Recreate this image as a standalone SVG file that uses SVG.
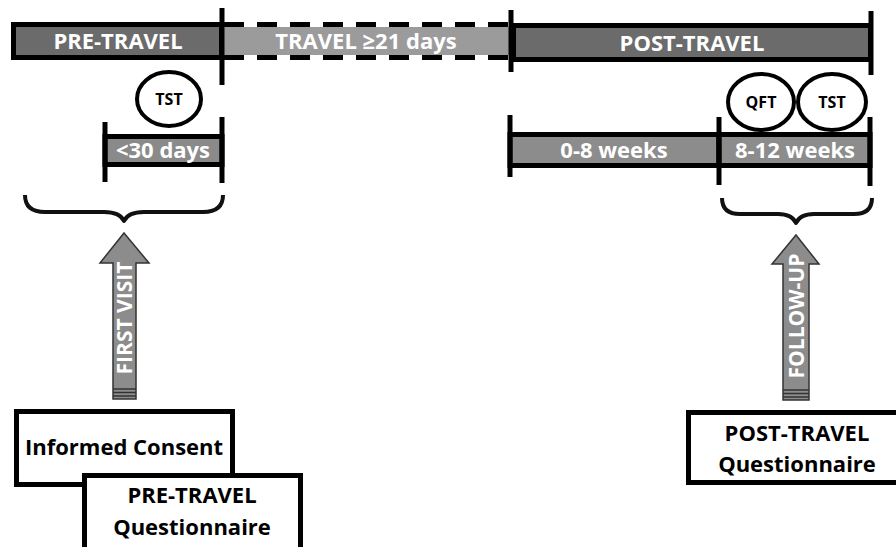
<svg xmlns="http://www.w3.org/2000/svg" width="896" height="547" viewBox="0 0 896 547">
<style>
.bar{stroke:#000;stroke-width:5}
.tick{stroke:#000;stroke-width:5;fill:none}
.wt{fill:#fff;font-family:"Open Sans","Liberation Sans",sans-serif;font-weight:bold;text-anchor:middle}
.bt{fill:#000;font-family:"Open Sans","Liberation Sans",sans-serif;font-weight:bold;text-anchor:middle}
.circ{fill:#fff;stroke:#000;stroke-width:4}
.box{fill:#fff;stroke:#000;stroke-width:5}
.brace{fill:none;stroke:#111;stroke-width:4;stroke-linejoin:round}
.arr{fill:#8c8c8c;stroke:#333;stroke-width:1.5}
.stripe{stroke:#333;stroke-width:1.5}
</style>
<rect width="896" height="547" fill="#fff"/>
<g id="pre-travel">
<rect class="bar" x="13.5" y="24.5" width="208" height="33" fill="#6b6b6b"/>
<text class="wt" x="118" y="49" font-size="22">PRE-TRAVEL</text>
</g>
<g id="travel">
<rect x="222" y="27" width="288" height="28" fill="#9b9b9b"/>
<line x1="224" y1="24.5" x2="510" y2="24.5" stroke="#000" stroke-width="5" stroke-dasharray="20 13"/>
<line x1="224" y1="57.5" x2="510" y2="57.5" stroke="#000" stroke-width="5" stroke-dasharray="20 13"/>
<text class="wt" x="366" y="49" font-size="22">TRAVEL ≥21 days</text>
</g>
<g id="post-travel">
<rect class="bar" x="513.5" y="25.5" width="357" height="34" fill="#6b6b6b"/>
<text class="wt" x="692" y="51" font-size="22">POST-TRAVEL</text>
</g>
<g id="ticks-top">
<line class="tick" x1="222" y1="8" x2="222" y2="85"/>
<line class="tick" x1="511" y1="10" x2="511" y2="72"/>
<line class="tick" x1="871" y1="11" x2="871" y2="75"/>
</g>
<g id="lt30">
<rect class="bar" x="105" y="136.5" width="117" height="28" fill="#8a8a8a"/>
<line class="tick" x1="105" y1="122" x2="105" y2="182"/>
<line class="tick" x1="222" y1="117" x2="222" y2="183"/>
<text class="wt" x="163" y="158" font-size="22">&lt;30 days</text>
</g>
<g id="w0-8">
<rect class="bar" x="510" y="134.5" width="209" height="31" fill="#8c8c8c"/>
<line class="tick" x1="510" y1="115" x2="510" y2="177"/>
<text class="wt" x="614" y="158" font-size="22">0-8 weeks</text>
</g>
<g id="w8-12">
<rect class="bar" x="719" y="134.5" width="151" height="31" fill="#8c8c8c"/>
<line class="tick" x1="719" y1="117" x2="719" y2="185"/>
<line class="tick" x1="870" y1="117" x2="870" y2="186"/>
<text class="wt" x="795" y="158" font-size="22">8-12 weeks</text>
</g>
<g id="tst-pre">
<ellipse class="circ" cx="169" cy="99" rx="32" ry="27"/>
<text class="bt" x="169" y="105" font-size="16">TST</text>
</g>
<g id="qft-post">
<ellipse class="circ" cx="761" cy="102" rx="33" ry="28"/>
<text class="bt" x="761" y="108" font-size="16">QFT</text>
</g>
<g id="tst-post">
<ellipse class="circ" cx="832" cy="102" rx="34" ry="28"/>
<text class="bt" x="832" y="108" font-size="16">TST</text>
</g>
<g id="brace-pre">
<path class="brace" d="M25,195 Q25,212 45,212 L104,212 Q120,212 124,221 Q128,212 144,212 L203,212 Q223,212 223,195"/>
</g>
<g id="brace-post">
<path class="brace" d="M722,198 Q722,214 740,214 L778,214 Q792,214 796,223 Q800,214 814,214 L854,214 Q872,214 872,198"/>
</g>
<g id="connectors">
<g id="arrow-first-visit">
<path class="arr" d="M124,233 L149,263 L136,263 L136,399 L113,399 L113,263 L100,263 Z"/>
<line class="stripe" x1="113" y1="389" x2="136" y2="389"/>
<line class="stripe" x1="113" y1="392.5" x2="136" y2="392.5"/>
<line class="stripe" x1="113" y1="396" x2="136" y2="396"/>
<text class="wt" transform="translate(132,318) rotate(-90)" font-size="21">FIRST VISIT</text>
</g>
<g id="arrow-follow-up">
<path class="arr" d="M796,235 L819,264 L809,264 L809,400 L783,400 L783,264 L772,264 Z"/>
<line class="stripe" x1="783" y1="390" x2="809" y2="390"/>
<line class="stripe" x1="783" y1="393.5" x2="809" y2="393.5"/>
<line class="stripe" x1="783" y1="397" x2="809" y2="397"/>
<text class="wt" transform="translate(804,316) rotate(-90)" font-size="21">FOLLOW-UP</text>
</g>
</g>
<g id="informed-consent">
<rect class="box" x="16.5" y="411.5" width="216" height="73"/>
<text class="bt" x="124" y="455" font-size="22">Informed Consent</text>
</g>
<g id="pre-travel-questionnaire">
<rect class="box" x="84.5" y="475.5" width="216" height="80"/>
<text class="bt" x="192" y="503" font-size="22">PRE-TRAVEL</text>
<text class="bt" x="192" y="535" font-size="22">Questionnaire</text>
</g>
<g id="post-travel-questionnaire">
<rect class="box" x="688.5" y="412.5" width="220" height="70"/>
<text class="bt" x="797" y="441" font-size="22">POST-TRAVEL</text>
<text class="bt" x="797" y="472" font-size="22">Questionnaire</text>
</g>
</svg>
